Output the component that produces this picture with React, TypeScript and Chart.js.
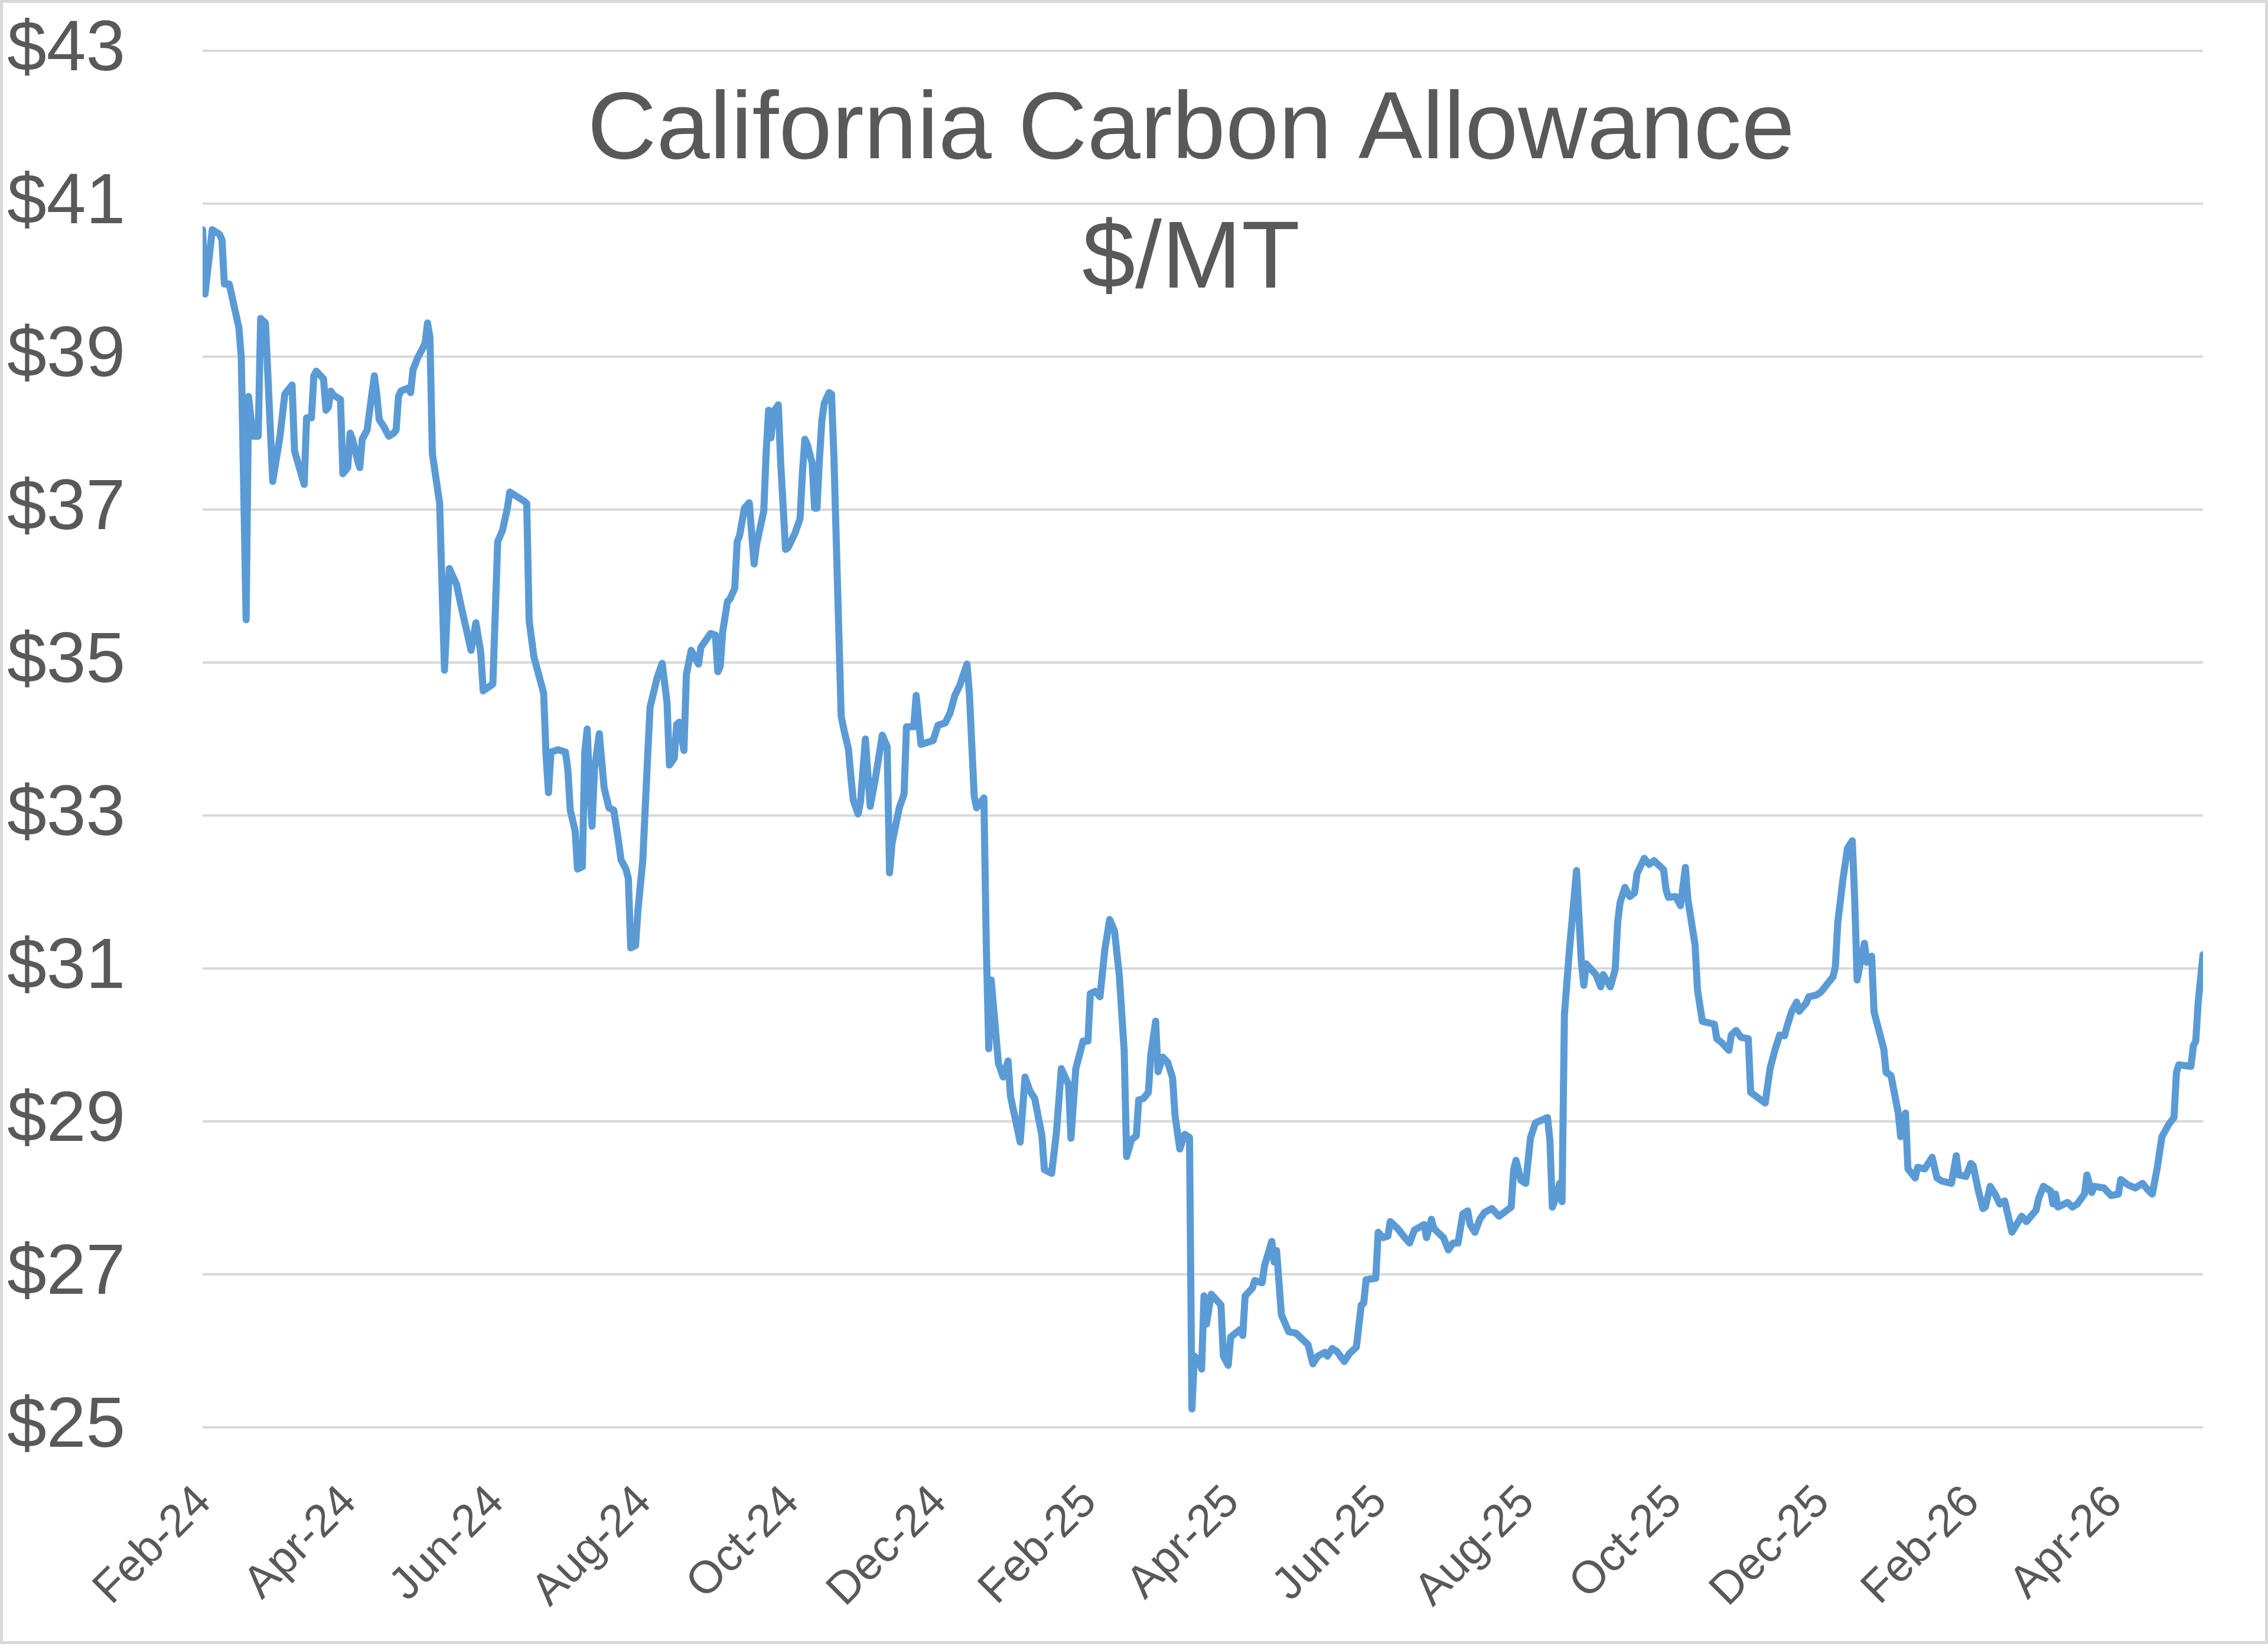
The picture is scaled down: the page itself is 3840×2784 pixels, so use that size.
import React, { useEffect, useRef } from "react";
import { Chart, registerables } from "chart.js";

Chart.register(...registerables);

const titleLines = ["California Carbon Allowance", "$/MT"];

const dates: string[] = [
  "2024-02-01","2024-02-02","2024-02-05","2024-02-08","2024-02-09","2024-02-10","2024-02-12","2024-02-16","2024-02-17","2024-02-19","2024-02-20","2024-02-21","2024-02-22","2024-02-24","2024-02-25","2024-02-27",
  "2024-03-01","2024-03-04","2024-03-06","2024-03-09","2024-03-10","2024-03-14","2024-03-15","2024-03-17","2024-03-18","2024-03-19","2024-03-22","2024-03-23","2024-03-24","2024-03-25","2024-03-26","2024-03-29","2024-03-30","2024-03-31",
  "2024-04-01","2024-04-02","2024-04-03","2024-04-05","2024-04-06","2024-04-07","2024-04-09","2024-04-12","2024-04-13","2024-04-14","2024-04-16","2024-04-18","2024-04-20","2024-04-21","2024-04-22","2024-04-23","2024-04-26","2024-04-27","2024-04-28","2024-04-30",
  "2024-05-02","2024-05-03","2024-05-04","2024-05-05","2024-05-06","2024-05-09","2024-05-11","2024-05-13","2024-05-16","2024-05-18","2024-05-22","2024-05-24","2024-05-26","2024-05-27","2024-05-31",
  "2024-06-02","2024-06-04","2024-06-06","2024-06-07","2024-06-13","2024-06-14","2024-06-15","2024-06-17","2024-06-20","2024-06-21","2024-06-22","2024-06-23","2024-06-24","2024-06-27","2024-06-30",
  "2024-07-01","2024-07-02","2024-07-04","2024-07-05","2024-07-07","2024-07-08","2024-07-09","2024-07-10","2024-07-11","2024-07-12","2024-07-14","2024-07-16","2024-07-18","2024-07-20","2024-07-22","2024-07-23","2024-07-25","2024-07-26","2024-07-27","2024-07-29","2024-07-30",
  "2024-08-01","2024-08-03","2024-08-04","2024-08-07","2024-08-09","2024-08-11","2024-08-12","2024-08-14","2024-08-15","2024-08-16","2024-08-18","2024-08-19","2024-08-21","2024-08-24","2024-08-25","2024-08-29","2024-08-31",
  "2024-09-01","2024-09-02","2024-09-03","2024-09-05","2024-09-06","2024-09-08","2024-09-09","2024-09-10","2024-09-12","2024-09-14","2024-09-16","2024-09-17","2024-09-20","2024-09-21","2024-09-22","2024-09-23","2024-09-24","2024-09-26","2024-09-27","2024-09-29","2024-09-30",
  "2024-10-03","2024-10-05","2024-10-06","2024-10-07","2024-10-08","2024-10-10","2024-10-11","2024-10-12","2024-10-13","2024-10-14","2024-10-15","2024-10-17","2024-10-18","2024-10-19","2024-10-22","2024-10-23","2024-10-25","2024-10-26","2024-10-27","2024-10-29","2024-10-30",
  "2024-11-01","2024-11-03","2024-11-05","2024-11-08","2024-11-10","2024-11-11","2024-11-12","2024-11-15","2024-11-17","2024-11-18","2024-11-21","2024-11-22","2024-11-24","2024-11-29",
  "2024-12-01","2024-12-04","2024-12-06","2024-12-08","2024-12-10","2024-12-13","2024-12-14","2024-12-16","2024-12-17","2024-12-20","2024-12-21","2024-12-22","2024-12-23","2024-12-26","2024-12-28","2024-12-30","2024-12-31",
  "2025-01-04","2025-01-06","2025-01-08","2025-01-10","2025-01-13","2025-01-14","2025-01-17","2025-01-19","2025-01-21","2025-01-24","2025-01-25","2025-01-27","2025-01-30",
  "2025-02-01","2025-02-02","2025-02-04","2025-02-06","2025-02-08","2025-02-10","2025-02-12","2025-02-14","2025-02-16","2025-02-17","2025-02-19","2025-02-21","2025-02-22","2025-02-24","2025-02-26","2025-02-27",
  "2025-03-01","2025-03-02","2025-03-04","2025-03-06","2025-03-08","2025-03-09","2025-03-11","2025-03-13","2025-03-15","2025-03-16","2025-03-17","2025-03-19","2025-03-20","2025-03-21","2025-03-22","2025-03-24","2025-03-28","2025-03-29","2025-03-31",
  "2025-04-01","2025-04-05","2025-04-06","2025-04-07","2025-04-10","2025-04-11","2025-04-14","2025-04-15","2025-04-18","2025-04-19","2025-04-20","2025-04-22","2025-04-25","2025-04-28",
  "2025-05-03","2025-05-05","2025-05-07","2025-05-10","2025-05-11","2025-05-13","2025-05-15","2025-05-18","2025-05-20","2025-05-23","2025-05-25","2025-05-26","2025-05-27","2025-05-31",
  "2025-06-01","2025-06-03","2025-06-05","2025-06-06","2025-06-09","2025-06-12","2025-06-14","2025-06-16","2025-06-20","2025-06-21","2025-06-23","2025-06-24","2025-06-28","2025-06-30",
  "2025-07-02","2025-07-04","2025-07-06","2025-07-08","2025-07-09","2025-07-11","2025-07-13","2025-07-15","2025-07-18","2025-07-21","2025-07-26","2025-07-27","2025-07-28","2025-07-30",
  "2025-08-01","2025-08-03","2025-08-05","2025-08-10","2025-08-11","2025-08-12","2025-08-14","2025-08-15","2025-08-16","2025-08-17","2025-08-19","2025-08-22","2025-08-24","2025-08-25","2025-08-26","2025-08-30",
  "2025-09-01","2025-09-02","2025-09-05","2025-09-07","2025-09-08","2025-09-09","2025-09-11","2025-09-13","2025-09-15","2025-09-16","2025-09-19","2025-09-21","2025-09-23","2025-09-27","2025-09-28","2025-09-29",
  "2025-10-02","2025-10-04","2025-10-06","2025-10-07","2025-10-10","2025-10-11","2025-10-13","2025-10-18","2025-10-19","2025-10-21","2025-10-24","2025-10-25","2025-10-27","2025-10-29",
  "2025-11-01","2025-11-02","2025-11-05","2025-11-08","2025-11-10","2025-11-12","2025-11-14","2025-11-16","2025-11-17","2025-11-19","2025-11-21","2025-11-22","2025-11-25","2025-11-26","2025-11-29",
  "2025-12-01","2025-12-06","2025-12-07","2025-12-08","2025-12-10","2025-12-12","2025-12-14","2025-12-15","2025-12-16","2025-12-17","2025-12-19","2025-12-20","2025-12-22","2025-12-23","2025-12-27","2025-12-28","2025-12-30",
  "2026-01-02","2026-01-03","2026-01-05","2026-01-06","2026-01-09","2026-01-10","2026-01-13","2026-01-16","2026-01-18","2026-01-20","2026-01-24","2026-01-26","2026-01-27","2026-01-30",
  "2026-02-01","2026-02-02","2026-02-04","2026-02-06","2026-02-07","2026-02-09","2026-02-11","2026-02-13","2026-02-15","2026-02-18","2026-02-22","2026-02-24","2026-02-28",
  "2026-03-01","2026-03-03","2026-03-06","2026-03-07","2026-03-08","2026-03-09","2026-03-13","2026-03-15","2026-03-17","2026-03-20","2026-03-21","2026-03-23","2026-03-24","2026-03-28","2026-03-31",
  "2026-04-03","2026-04-04","2026-04-07","2026-04-10","2026-04-13","2026-04-15","2026-04-17","2026-04-19","2026-04-21","2026-04-24","2026-04-26","2026-04-27","2026-04-28",
  "2026-05-03","2026-05-04","2026-05-05","2026-05-06","2026-05-08",
];

const prices: number[] = [
  40.66,39.82,40.66,40.60,40.53,39.95,39.95,39.38,38.99,35.56,38.48,38.20,37.96,37.96,39.50,39.44,
  37.37,37.96,38.51,38.63,37.77,37.33,38.20,38.20,38.75,38.81,38.71,38.30,38.34,38.55,38.50,38.44,37.47,37.51,
  37.55,38.00,37.92,37.65,37.55,37.92,38.04,38.75,38.51,38.18,38.08,37.96,38.00,38.04,38.48,38.55,38.59,38.53,38.83,38.99,
  39.11,39.18,39.44,39.25,37.73,37.08,34.90,36.23,36.02,35.72,35.16,35.52,35.13,34.63,34.72,
  36.58,36.73,37.02,37.23,37.11,37.08,35.55,35.07,34.72,34.60,33.78,33.30,33.83,33.86,33.83,
  33.60,33.07,32.80,32.30,32.33,33.83,34.13,33.36,32.86,33.60,34.07,33.36,33.10,33.07,32.65,32.42,32.30,32.18,31.27,31.30,31.77,
  32.42,33.78,34.42,34.81,34.99,34.48,33.66,33.75,34.19,34.22,33.85,34.84,35.16,34.98,35.20,35.38,35.36,
  34.88,34.95,35.40,35.80,35.83,35.97,36.58,36.66,37.02,37.09,36.29,36.54,36.98,37.76,38.30,37.94,38.28,38.37,37.61,36.48,36.50,
  36.70,36.88,37.49,37.92,37.85,37.61,37.02,37.02,37.65,38.16,38.39,38.53,38.51,37.69,34.30,34.14,33.87,33.51,33.20,33.02,33.18,
  34.00,33.12,33.46,34.05,33.90,32.25,32.63,33.10,33.28,34.16,34.16,34.57,33.93,33.98,
  34.18,34.21,34.34,34.57,34.70,34.98,34.60,33.25,33.10,33.23,31.29,29.95,30.85,29.76,29.58,29.79,29.33,
  28.73,29.58,29.40,29.30,28.81,28.37,28.32,28.86,29.69,29.48,28.78,29.69,30.05,
  30.05,30.67,30.70,30.63,31.25,31.64,31.49,30.90,29.92,28.54,28.76,28.81,29.28,29.30,29.38,29.87,
  30.31,29.65,29.84,29.77,29.57,29.08,28.64,28.83,28.79,25.24,25.93,25.88,25.76,26.72,26.35,26.74,26.60,25.93,25.81,
  26.18,26.28,26.20,26.72,26.82,26.92,26.89,27.11,27.43,27.16,27.31,26.47,26.25,26.23,
  26.08,25.83,25.93,25.98,25.93,26.03,25.99,25.86,25.96,26.05,26.60,26.62,26.93,26.95,
  27.55,27.48,27.50,27.69,27.60,27.48,27.41,27.58,27.65,27.48,27.72,27.60,27.48,27.32,
  27.41,27.41,27.79,27.83,27.65,27.55,27.72,27.81,27.86,27.76,27.88,28.37,28.49,28.23,
  28.19,28.79,28.98,29.05,28.75,27.88,28.05,28.19,27.95,30.40,31.22,32.28,31.08,30.78,31.06,30.92,
  30.76,30.92,30.76,30.99,31.60,31.86,32.06,31.94,31.99,32.24,32.44,32.36,32.41,32.29,32.03,31.93,
  31.94,31.82,32.32,31.91,31.31,30.72,30.31,30.27,30.08,30.03,29.93,30.13,30.19,30.10,
  30.08,29.38,29.31,29.24,29.69,29.93,30.13,30.12,30.24,30.44,30.56,30.44,30.55,30.63,30.65,
  30.69,30.89,31.02,31.60,32.13,32.57,32.67,31.90,30.85,31.02,31.33,31.08,31.16,30.43,29.95,29.64,29.60,
  29.11,28.80,29.11,28.38,28.26,28.40,28.38,28.53,28.26,28.22,28.19,28.55,28.30,28.28,
  28.45,28.42,28.11,27.86,27.88,28.15,28.05,27.92,27.96,27.55,27.76,27.69,27.84,
  27.99,28.15,28.09,27.92,28.05,27.88,27.94,27.88,27.92,28.05,28.30,28.07,28.15,28.13,28.03,
  28.05,28.24,28.17,28.13,28.19,28.11,28.05,28.38,28.80,28.97,29.05,29.64,29.74,
  29.72,29.99,30.05,30.56,31.18,
];

const tickDates = [
  "2024-02-01","2024-04-01","2024-06-01","2024-08-01","2024-10-01","2024-12-01",
  "2025-02-01","2025-04-01","2025-06-01","2025-08-01","2025-10-01","2025-12-01",
  "2026-02-01","2026-04-01",
];
const tickLabels = [
  "Feb-24","Apr-24","Jun-24","Aug-24","Oct-24","Dec-24",
  "Feb-25","Apr-25","Jun-25","Aug-25","Oct-25","Dec-25",
  "Feb-26","Apr-26",
];

const yMin = 25;
const yMax = 43;
const yStep = 2;

const START = dates[0];
function dayOf(iso: string): number {
  const [y, m, d] = iso.split("-").map(Number);
  const [y0, m0, d0] = START.split("-").map(Number);
  return Math.round((Date.UTC(y, m - 1, d) - Date.UTC(y0, m0 - 1, d0)) / 86400000);
}

const W = 3840;
const H = 2784;
const B = 5;
const CW = W - 2 * B;
const CH = H - 2 * B;
const FONT = "'Liberation Sans', Arial, sans-serif";
const TEXT = "#595959";

export default function App() {
  const ref = useRef<HTMLCanvasElement>(null);

  useEffect(() => {
    const canvas = ref.current;
    if (!canvas) return;
    const points = dates.map((d, i) => ({ x: dayOf(d), y: prices[i] }));
    const tickValues = tickDates.map(dayOf);

    const titlePlugin = {
      id: "excelTitle",
      afterDraw(chart: any) {
        const { ctx, chartArea } = chart;
        ctx.save();
        ctx.fillStyle = TEXT;
        ctx.font = `162px ${FONT}`;
        ctx.textAlign = "center";
        ctx.textBaseline = "alphabetic";
        const cx = (chartArea.left + chartArea.right) / 2 - 20;
        ctx.fillText(titleLines[0], cx, chartArea.top + 182);
        ctx.fillText(titleLines[1], cx, chartArea.top + 401);
        ctx.restore();
      },
    };

    const chart = new Chart(canvas, {
      type: "line",
      data: {
        datasets: [
          {
            data: points,
            borderColor: "#5b9bd5",
            borderWidth: 12,
            pointRadius: 0,
            tension: 0,
            borderJoinStyle: "round",
            borderCapStyle: "round",
            fill: false,
          },
        ],
      },
      options: {
        animation: false,
        responsive: false,
        devicePixelRatio: 1,
        layout: { padding: { top: 81, right: 105, left: 7, bottom: 0 } },
        plugins: {
          legend: { display: false },
          tooltip: { enabled: false },
          title: { display: false },
        },
        scales: {
          x: {
            type: "linear",
            min: 0,
            max: dayOf(dates[dates.length - 1]),
            grid: { display: false, drawTicks: false },
            border: { display: false },
            afterBuildTicks: (s: any) => {
              s.ticks = tickValues.map((v) => ({ value: v }));
            },
            afterFit: (s: any) => {
              s.height = 362;
            },
            ticks: {
              autoSkip: false,
              minRotation: 45,
              maxRotation: 45,
              padding: 82,
              labelOffset: 3,
              color: TEXT,
              font: { family: FONT, size: 77 },
              callback: (_v: any, i: number) => tickLabels[i],
            },
          },
          y: {
            min: yMin,
            max: yMax,
            grid: { color: "#d9d9d9", lineWidth: 4, drawTicks: false },
            border: { display: false },
            afterFit: (s: any) => {
              s.width = 331;
            },
            ticks: {
              stepSize: yStep,
              padding: 0,
              crossAlign: "far",
              color: TEXT,
              font: { family: FONT, size: 120 },
              callback: (v: any) => "$" + v,
            },
          },
        },
      },
      plugins: [titlePlugin],
    } as any);

    return () => chart.destroy();
  }, []);

  return (
    <div
      style={{
        position: "absolute",
        left: 0,
        top: 0,
        width: W,
        height: H,
        border: `${B}px solid #d9d9d9`,
        boxSizing: "border-box",
        background: "#fff",
      }}
    >
      <canvas ref={ref} width={CW} height={CH} style={{ display: "block", width: CW, height: CH }} />
    </div>
  );
}
